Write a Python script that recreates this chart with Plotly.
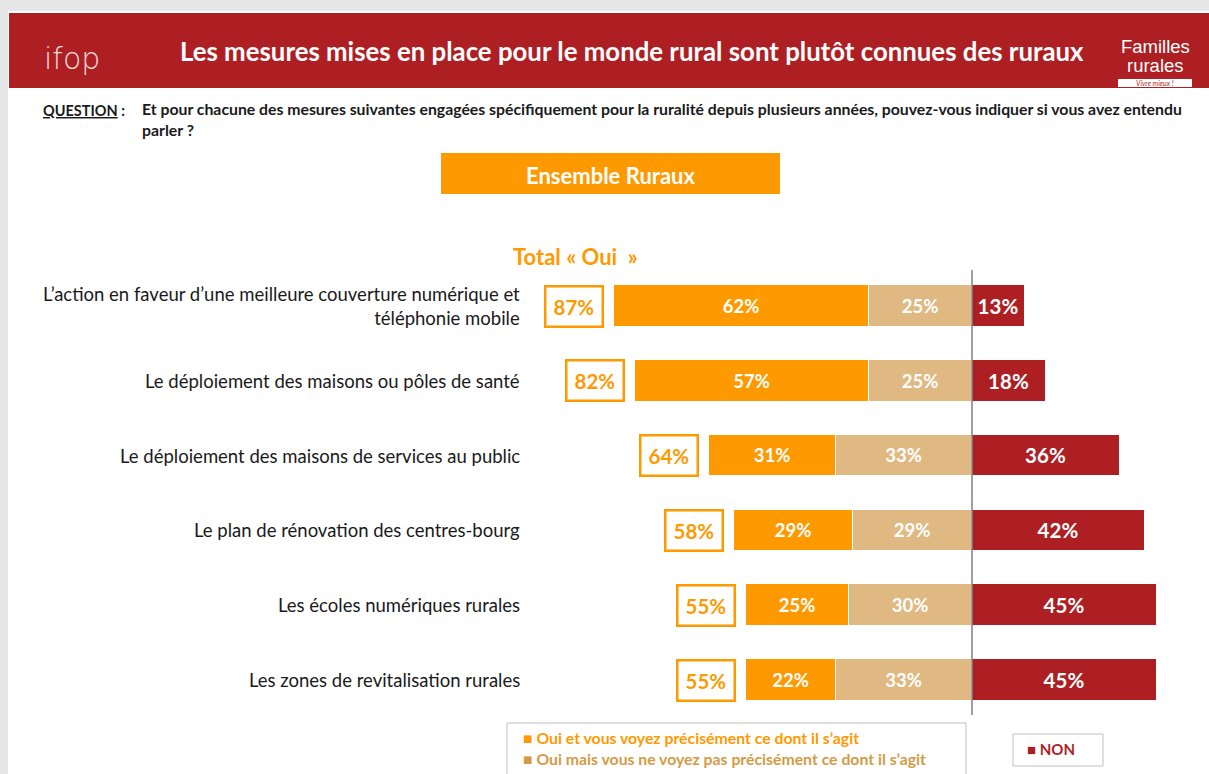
import plotly.graph_objects as go

# données
mesures = [
    "L’action en faveur d’une meilleure couverture numérique et<br>téléphonie mobile",
    "Le déploiement des maisons ou pôles de santé",
    "Le déploiement des maisons de services au public",
    "Le plan de rénovation des centres-bourg",
    "Les écoles numériques rurales",
    "Les zones de revitalisation rurales",
]
oui_precis = [62, 57, 31, 29, 25, 22]
oui_pas_precis = [25, 25, 33, 29, 30, 33]
non = [13, 18, 36, 42, 45, 45]
total_oui = [87, 82, 64, 58, 55, 55]

ORANGE = "#FF9900"
BEIGE = "#E0B982"
ROUGE = "#AE1F24"
FONT = "Lato"

W, H = 1209, 774
X0, PX = 972, 4.11       # pixel of zero line, px per %
Y0, DY = 306, 74.8       # pixel of first row centre, row spacing

xr = [-X0 / PX, (W - X0) / PX]
yr = [(H - Y0) / DY, -Y0 / DY]
ypos = list(range(len(mesures)))


def bar(vals, base, color, size):
    return go.Bar(
        y=ypos, x=vals, base=base, orientation="h",
        marker=dict(color=color, line=dict(color="white", width=1)),
        width=0.555, text=[f"<b>{v}%</b>" for v in vals], textposition="inside",
        insidetextanchor="middle", textfont=dict(color="white", size=size, family=FONT),
        constraintext="none", hoverinfo="skip",
    )


fig = go.Figure()
fig.add_trace(bar(oui_precis, [-(a + b) for a, b in zip(oui_precis, oui_pas_precis)], ORANGE, 18.5))
fig.add_trace(bar(oui_pas_precis, [-b for b in oui_pas_precis], BEIGE, 18.5))
fig.add_trace(bar(non, [0] * len(non), ROUGE, 20.5))

fig.update_layout(
    width=W, height=H, margin=dict(l=0, r=0, t=0, b=0),
    paper_bgcolor="white", plot_bgcolor="rgba(0,0,0,0)",
    barmode="overlay", showlegend=False, bargap=0,
    font=dict(family=FONT, color="#1a1a1a"),
    xaxis=dict(range=xr, visible=False, fixedrange=True),
    yaxis=dict(range=yr, visible=False, fixedrange=True),
)

shapes = []
ann = []


def px(x):
    return x / W


def py(y):
    return 1 - y / H


def note(x, y, text, size, color, xanchor="center", family=FONT, weight=None, **kw):
    f = dict(size=size, color=color, family=family)
    if weight:
        f["weight"] = weight
    ann.append(dict(x=px(x), y=py(y), xref="paper", yref="paper", showarrow=False,
                    xanchor=xanchor, yanchor="middle", text=text, font=f, **kw))


# cadre gris et bandeau rouge
shapes.append(dict(type="rect", xref="paper", yref="paper", x0=0, x1=1, y0=py(11), y1=1,
                   fillcolor="#E6E6E6", line=dict(width=0), layer="below"))
shapes.append(dict(type="rect", xref="paper", yref="paper", x0=0, x1=px(8), y0=0, y1=1,
                   fillcolor="#E6E6E6", line=dict(width=0), layer="below"))
shapes.append(dict(type="rect", xref="paper", yref="paper", x0=px(9), x1=1, y0=py(88), y1=py(13),
                   fillcolor=ROUGE, line=dict(width=0), layer="below"))

note(632, 51, "<b>Les mesures mises en place pour le monde rural sont plutôt connues des ruraux</b>",
     25.8, "white")
note(42, 59, "ifop", 30, "#F3DADB", xanchor="left", family="DejaVu Sans", weight=200)
note(1155, 47, "Familles", 18.5, "white", family="Liberation Sans")
note(1155, 65, "rurales", 18.5, "white", family="Liberation Sans")
shapes.append(dict(type="rect", xref="paper", yref="paper", x0=px(1118), x1=px(1192), y0=py(87), y1=py(79),
                   fillcolor="white", line=dict(width=0)))
note(1155, 83, "<i>Vivre mieux !</i>", 7, ROUGE)

# question
note(41, 110, "<b><u>QUESTION</u> :</b>", 14.5, "#1a1a1a", xanchor="left")
note(140, 119,
     "<b>Et pour chacune des mesures suivantes engagées spécifiquement pour la ruralité depuis plusieurs années, pouvez-vous indiquer si vous avez entendu<br>parler ?</b>",
     15.8, "#1a1a1a", xanchor="left", align="left")

# encart "Ensemble Ruraux"
shapes.append(dict(type="rect", xref="paper", yref="paper", x0=px(441), x1=px(780), y0=py(194), y1=py(153),
                   fillcolor=ORANGE, line=dict(width=0)))
note(610, 175, "<b>Ensemble Ruraux</b>", 22, "white")
note(575, 256, "<b>Total « Oui  »</b>", 22, ORANGE)

# ligne zéro
shapes.append(dict(type="line", xref="x", yref="paper", x0=0, x1=0, y0=py(715), y1=py(270),
                   line=dict(color="#7F7F7F", width=1.5), layer="above"))

# libellés et totaux
for i, lab in enumerate(mesures):
    ann.append(dict(x=px(522), y=i, xref="paper", yref="y", showarrow=False, xanchor="right",
                    yanchor="middle", align="right", text=lab,
                    font=dict(size=18.5, color="#1a1a1a", family=FONT)))
    left = -(oui_precis[i] + oui_pas_precis[i])
    ann.append(dict(x=left, y=i, xref="x", yref="y", showarrow=False, xanchor="right",
                    yanchor="middle", xshift=-10,
                    text=f"<b>{total_oui[i]}%</b>", font=dict(size=20.5, color=ORANGE, family=FONT),
                    bordercolor=ORANGE, borderwidth=2.5, borderpad=7, bgcolor="white"))

# légende
shapes.append(dict(type="rect", xref="paper", yref="paper", x0=px(507), x1=px(966), y0=py(778), y1=py(723),
                   fillcolor="white", line=dict(color="#BFBFBF", width=1)))
note(521, 737, "<b>■ Oui et vous voyez précisément ce dont il s’agit</b>", 15.8, ORANGE, xanchor="left")
note(521, 758, "<b>■ Oui mais vous ne voyez pas précisément ce dont il s’agit</b>", 15.8, "#D39B45",
     xanchor="left")
shapes.append(dict(type="rect", xref="paper", yref="paper", x0=px(1013), x1=px(1103), y0=py(766), y1=py(734),
                   fillcolor="white", line=dict(color="#BFBFBF", width=1)))
note(1025, 749, "<b>■ NON</b>", 15, ROUGE, xanchor="left")

fig.update_layout(shapes=shapes, annotations=ann)
fig.write_html("out.html", config={"displayModeBar": False},
               post_script="document.body.style.margin='0';document.body.style.overflow='hidden';")
